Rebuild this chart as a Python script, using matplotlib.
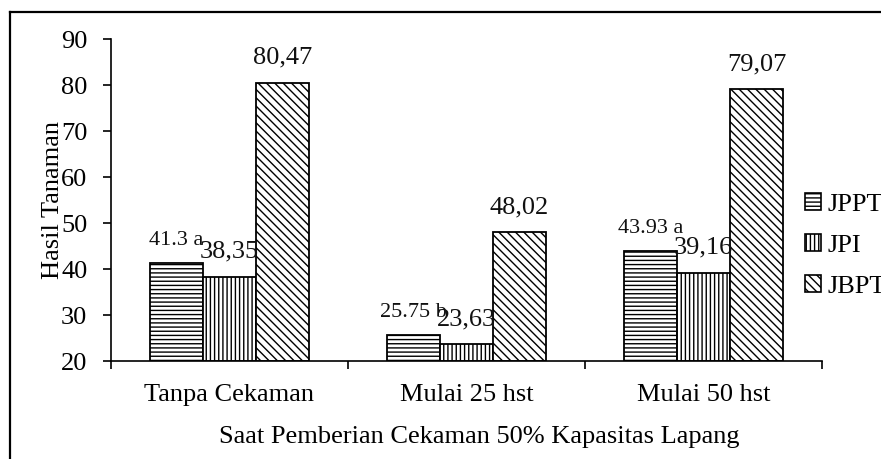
import numpy as np
import matplotlib
matplotlib.use("Agg")
import matplotlib.pyplot as plt
from matplotlib.lines import Line2D
from matplotlib.patches import Patch

plt.rcParams["font.family"] = ["Liberation Serif", "DejaVu Serif"]
plt.rcParams["hatch.linewidth"] = 1.0

categories = ["Tanpa Cekaman", "Mulai 25 hst", "Mulai 50 hst"]
series = ["JPPT", "JPI", "JBPT"]
jppt = [41.3, 25.75, 43.93]
jpi = [38.35, 23.63, 39.16]
jbpt = [80.47, 48.02, 79.07]
jppt_labels = ["41.3 a", "25.75 b", "43.93 a"]
jpi_labels = ["38,35", "23,63", "39,16"]
jbpt_labels = ["80,47", "48,02", "79,07"]

W, H = 881, 459
fig = plt.figure(figsize=(W / 100, H / 100), dpi=100)
ax = fig.add_axes([111 / W, 1 - 361 / H, (822 - 111) / W, (361 - 39) / H])

x = np.arange(len(categories))
bw = 0.224
hatches = ["----", "||||", "\\\\\\\\"]
values = [jppt, jpi, jbpt]
labels = [jppt_labels, jpi_labels, jbpt_labels]
sizes = [16, 19, 19]
offsets = [16, 18, 18]

for i, (vals, hatch) in enumerate(zip(values, hatches)):
    pos = x + (i - 1) * bw
    ax.bar(pos, np.array(vals) - 20, bw, bottom=20, color="white",
           edgecolor="black", linewidth=1.3, hatch=hatch, label=series[i])
    for p, v, t in zip(pos, vals, labels[i]):
        ax.annotate(t, (p, v), xytext=(0, offsets[i]), textcoords="offset points",
                    ha="center", va="center", fontsize=sizes[i], color="#111111")

ax.set_xlim(-0.5, 2.5)
ax.set_ylim(20, 90)
ax.set_yticks(range(20, 91, 10))
ax.set_xticks([-0.5, 0.5, 1.5, 2.5])
ax.set_xticklabels([])
ax.tick_params(axis="y", direction="out", length=6, width=1.2, labelsize=19, pad=11)
ax.tick_params(axis="x", direction="out", length=6, width=1.2)
for c, name in zip(x, categories):
    ax.text(c, -0.105, name, transform=ax.get_xaxis_transform(),
            ha="center", va="center", fontsize=19)

for s in ["top", "right"]:
    ax.spines[s].set_visible(False)
for s in ["left", "bottom"]:
    ax.spines[s].set_linewidth(1.2)

ax.yaxis.set_label_coords(-58 / (822 - 111), 0.5)
ax.set_ylabel("Hasil Tanaman", fontsize=19, va="center")
fig.text(479 / W, 1 - 437 / H, "Saat Pemberian Cekaman 50% Kapasitas Lapang",
         ha="center", va="center", fontsize=19)

handles = [Patch(facecolor="white", edgecolor="black", hatch=h, linewidth=1.2)
           for h in hatches]
fig.legend(handles, series, loc="upper left", bbox_to_anchor=(805 / W, 1 - 193 / H),
           frameon=False, fontsize=19, handlelength=0.6, handleheight=0.6,
           handletextpad=0.25, labelspacing=0.7, borderaxespad=0, borderpad=0)

# outer frame (left and top edges visible)
fig.add_artist(Line2D([10 / W, 10 / W], [0, 1 - 12 / H], color="black", lw=1.6))
fig.add_artist(Line2D([10 / W, 1], [1 - 12 / H, 1 - 12 / H], color="black", lw=1.6))

fig.savefig("out.png", dpi=100)
